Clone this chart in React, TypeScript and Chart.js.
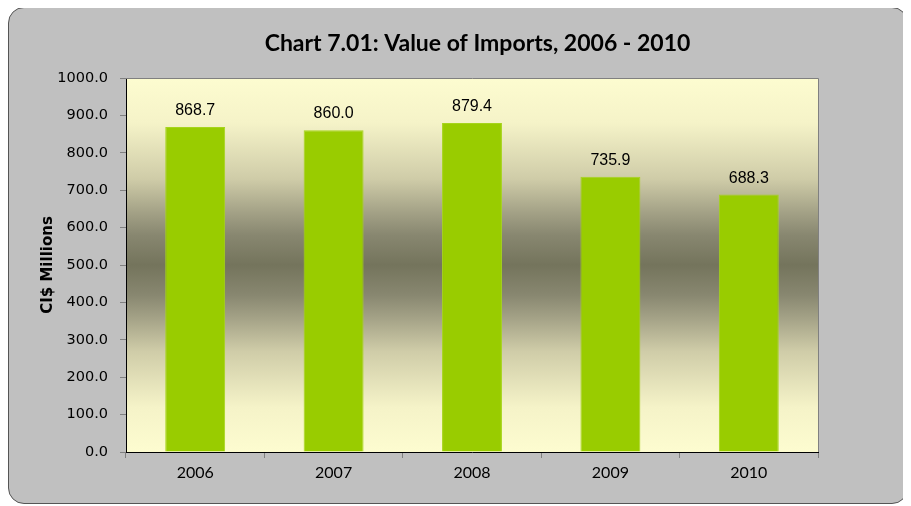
import { useEffect, useRef } from 'react';
import { Chart, registerables } from 'chart.js';

Chart.register(...registerables);

const categories: string[] = ['2006', '2007', '2008', '2009', '2010'];
const importValues: number[] = [868.7, 860.0, 879.4, 735.9, 688.3];
const yMin = 0;
const yMax = 1000;
const yStep = 100;
const chartTitle = 'Chart 7.01: Value of Imports, 2006 - 2010';
const yAxisTitle = 'CI$ Millions';

const W = 900;
const H = 497;

const decorPlugin = {
  id: 'decor',
  beforeDraw(chart: any) {
    const { ctx, chartArea: a } = chart;
    const g = ctx.createLinearGradient(0, a.top, 0, a.bottom);
    g.addColorStop(0, '#fdfcd0');
    g.addColorStop(0.12, '#f5f3c8');
    g.addColorStop(0.27, '#cfcca8');
    g.addColorStop(0.36, '#a3a186');
    g.addColorStop(0.42, '#888770');
    g.addColorStop(0.5, '#74745c');
    g.addColorStop(0.58, '#888770');
    g.addColorStop(0.64, '#a3a186');
    g.addColorStop(0.73, '#cfcca8');
    g.addColorStop(0.88, '#f5f3c8');
    g.addColorStop(1, '#fdfcd0');
    ctx.save();
    ctx.fillStyle = g;
    ctx.fillRect(a.left, a.top, a.right - a.left, a.bottom - a.top);
    ctx.restore();
  },
  afterDatasetsDraw(chart: any) {
    const { ctx, chartArea: a } = chart;
    ctx.save();
    ctx.strokeStyle = '#808080';
    ctx.lineWidth = 1;
    ctx.beginPath();
    ctx.moveTo(a.left, a.top + 0.5);
    ctx.lineTo(a.right + 0.5, a.top + 0.5);
    ctx.lineTo(a.right + 0.5, a.bottom);
    ctx.stroke();
    const meta = chart.getDatasetMeta(0);
    ctx.fillStyle = '#000';
    ctx.font = '16px "Liberation Sans", Arial, sans-serif';
    ctx.textAlign = 'center';
    ctx.textBaseline = 'alphabetic';
    meta.data.forEach((bar: any, i: number) => {
      ctx.fillText(importValues[i].toFixed(1), bar.x, bar.y - 12);
    });
    ctx.restore();
  },
  afterDraw(chart: any) {
    const { ctx, chartArea: a } = chart;
    ctx.save();
    ctx.fillStyle = '#000';
    ctx.font = 'bold 23px Lato, "Open Sans", sans-serif';
    ctx.textAlign = 'center';
    ctx.textBaseline = 'middle';
    ctx.fillText(chartTitle, 469.5, 37);
    ctx.translate(40, (a.top + a.bottom) / 2);
    ctx.rotate(-Math.PI / 2);
    ctx.font = 'bold 15px "DejaVu Sans", sans-serif';
    ctx.fillText(yAxisTitle, 0, 0);
    ctx.restore();
  },
};

export default function App() {
  const ref = useRef<HTMLCanvasElement | null>(null);

  useEffect(() => {
    if (!ref.current) return;
    const chart = new Chart(ref.current, {
      type: 'bar',
      data: {
        labels: categories,
        datasets: [
          {
            data: importValues,
            backgroundColor: '#99cc00',
            borderColor: '#a6d41c',
            borderWidth: 1,
            barPercentage: 0.433,
            categoryPercentage: 1,
          },
        ],
      },
      options: {
        responsive: false,
        animation: false,
        devicePixelRatio: 1,
        layout: { padding: { top: 71, right: 90, left: 0, bottom: 0 } },
        plugins: {
          legend: { display: false },
          title: { display: false },
          tooltip: { enabled: false },
        },
        scales: {
          x: {
            grid: {
              offset: true,
              drawOnChartArea: false,
              drawTicks: true,
              tickLength: 6,
              color: '#808080',
            },
            border: { color: '#000', width: 1 },
            ticks: {
              color: '#000',
              padding: 5,
              font: { family: 'Lato, "Open Sans", sans-serif', size: 16 },
            },
            afterFit: (s: any) => {
              s.height = 52;
            },
          },
          y: {
            min: yMin,
            max: yMax,
            grid: {
              drawOnChartArea: false,
              drawTicks: true,
              tickLength: 6,
              color: '#808080',
            },
            border: { color: '#000', width: 1 },
            ticks: {
              stepSize: yStep,
              color: '#000',
              padding: 12,
              font: { family: '"DejaVu Sans", sans-serif', size: 14.5 },
              callback: (v: any) => Number(v).toFixed(1),
            },
            afterFit: (s: any) => {
              s.width = 118;
            },
          },
        },
      },
      plugins: [decorPlugin],
    });
    return () => chart.destroy();
  }, []);

  return (
    <div style={{ position: 'relative', width: W, height: H, marginTop: -1 }}>
      <div
        style={{
          position: 'absolute',
          left: 0,
          top: 0,
          width: W,
          height: H,
          background: '#c0c0c0',
          border: '1px solid #555',
          borderRadius: 16,
          boxSizing: 'border-box',
        }}
      />
      <canvas
        ref={ref}
        width={W}
        height={H}
        style={{ position: 'absolute', left: 0, top: 0, width: W, height: H }}
      />
    </div>
  );
}
